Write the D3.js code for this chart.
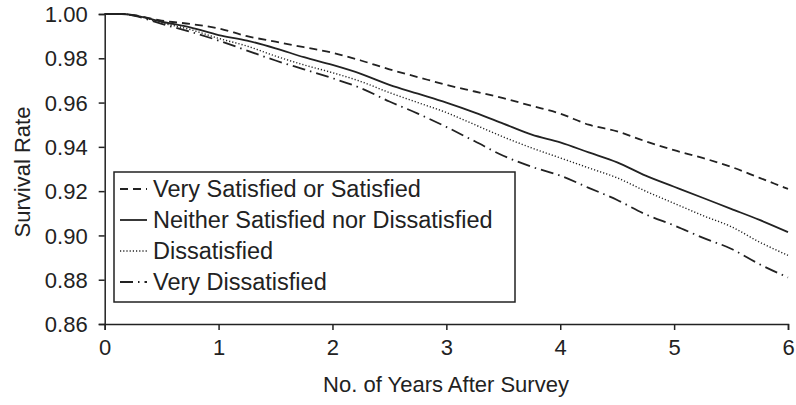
<!DOCTYPE html>
<html><head><meta charset="utf-8">
<script src="https://cdn.jsdelivr.net/npm/d3@7"></script>
<style>body{margin:0;background:#fff;} text{font-family:"Liberation Sans",Arial,sans-serif;fill:#222;}</style>
</head><body>
<svg id="chart" width="796" height="405"></svg>
<script>
const years = [0,0.15,0.25,0.5,0.75,1,1.25,1.5,1.75,2,2.25,2.5,2.75,3,3.25,3.5,3.75,4,4.25,4.5,4.75,5,5.25,5.5,5.75,6];
const verySatisfied = [1,1,0.9995,0.997,0.9955,0.9935,0.990,0.9875,0.985,0.9825,0.979,0.975,0.9715,0.968,0.965,0.962,0.9585,0.955,0.950,0.947,0.9425,0.9385,0.935,0.931,0.926,0.921];
const neither = [1,1,0.9995,0.9965,0.994,0.9905,0.988,0.9845,0.9805,0.977,0.973,0.968,0.964,0.960,0.9555,0.9505,0.9455,0.942,0.9375,0.933,0.927,0.922,0.917,0.912,0.907,0.9015];
const dissatisfied = [1,1,0.9995,0.996,0.993,0.989,0.9855,0.981,0.977,0.9735,0.9695,0.9645,0.960,0.9555,0.950,0.9445,0.9395,0.935,0.9305,0.926,0.920,0.9145,0.909,0.904,0.897,0.891];
const veryDissatisfied = [1,1,0.9993,0.9955,0.992,0.988,0.9835,0.979,0.975,0.971,0.9665,0.9605,0.955,0.949,0.9425,0.936,0.931,0.927,0.9215,0.916,0.9095,0.9045,0.899,0.894,0.887,0.881];
const seriesNames = ["Very Satisfied or Satisfied","Neither Satisfied nor Dissatisfied","Dissatisfied","Very Dissatisfied"];
const xTicks = [0,1,2,3,4,5,6];
const yTicks = [0.86,0.88,0.90,0.92,0.94,0.96,0.98,1.00];

const series = [
  {name: seriesNames[0], values: verySatisfied, dash: "8,5"},
  {name: seriesNames[1], values: neither, dash: null},
  {name: seriesNames[2], values: dissatisfied, dash: "1.2,2"},
  {name: seriesNames[3], values: veryDissatisfied, dash: "13,5,1.5,5"}
];

const svg = d3.select("#chart");
const x = d3.scaleLinear().domain([0,6]).range([104.7,788]);
const y = d3.scaleLinear().domain([0.86,1.00]).range([324,14]);
const col = "#222";
const fs = 22;

const xAxis = svg.append("g").attr("transform","translate(0,324)")
  .call(d3.axisBottom(x).tickValues(xTicks).tickFormat(d3.format("d")).tickSizeOuter(0).tickSize(6).tickPadding(9));
const yAxis = svg.append("g").attr("transform","translate(104.7,0)")
  .call(d3.axisLeft(y).tickValues(yTicks).tickFormat(d3.format(".2f")).tickSizeOuter(0).tickSize(6).tickPadding(11));
[xAxis,yAxis].forEach(g=>{
  g.selectAll("path,line").attr("stroke",col).attr("stroke-width",1.5);
  g.selectAll("text").attr("font-size",fs).attr("fill",col).style("font-family","'Liberation Sans',Arial,sans-serif");
});
yAxis.selectAll("text").attr("dy","0.35em");

svg.append("text").attr("x",446).attr("y",392).attr("text-anchor","middle").attr("font-size",fs).text("No. of Years After Survey");
svg.append("text").attr("transform","translate(30,172) rotate(-90)").attr("text-anchor","middle").attr("font-size",fs).text("Survival Rate");

const line = d3.line().x((d,i)=>x(years[i])).y(d=>y(d)).curve(d3.curveMonotoneX);
series.forEach(s=>{
  svg.append("path").datum(s.values).attr("d",line).attr("fill","none").attr("stroke",col)
    .attr("stroke-width", s.dash==="1.2,2" ? 1.4 : 1.8).attr("stroke-dasharray", s.dash);
});

// legend
const lg = svg.append("g");
lg.append("rect").attr("x",114).attr("y",172).attr("width",401).attr("height",130).attr("fill","#fff").attr("stroke",col).attr("stroke-width",1.5);
series.forEach((s,i)=>{
  const cy = 189 + i*31;
  lg.append("line").attr("x1",120).attr("x2",147).attr("y1",cy).attr("y2",cy).attr("stroke",col)
    .attr("stroke-width", s.dash==="1.2,2" ? 1.4 : 1.8).attr("stroke-dasharray", s.dash);
  lg.append("text").attr("x",153).attr("y",cy).attr("dy","0.35em").attr("font-size",23.5).text(s.name);
});
</script>
</body></html>
